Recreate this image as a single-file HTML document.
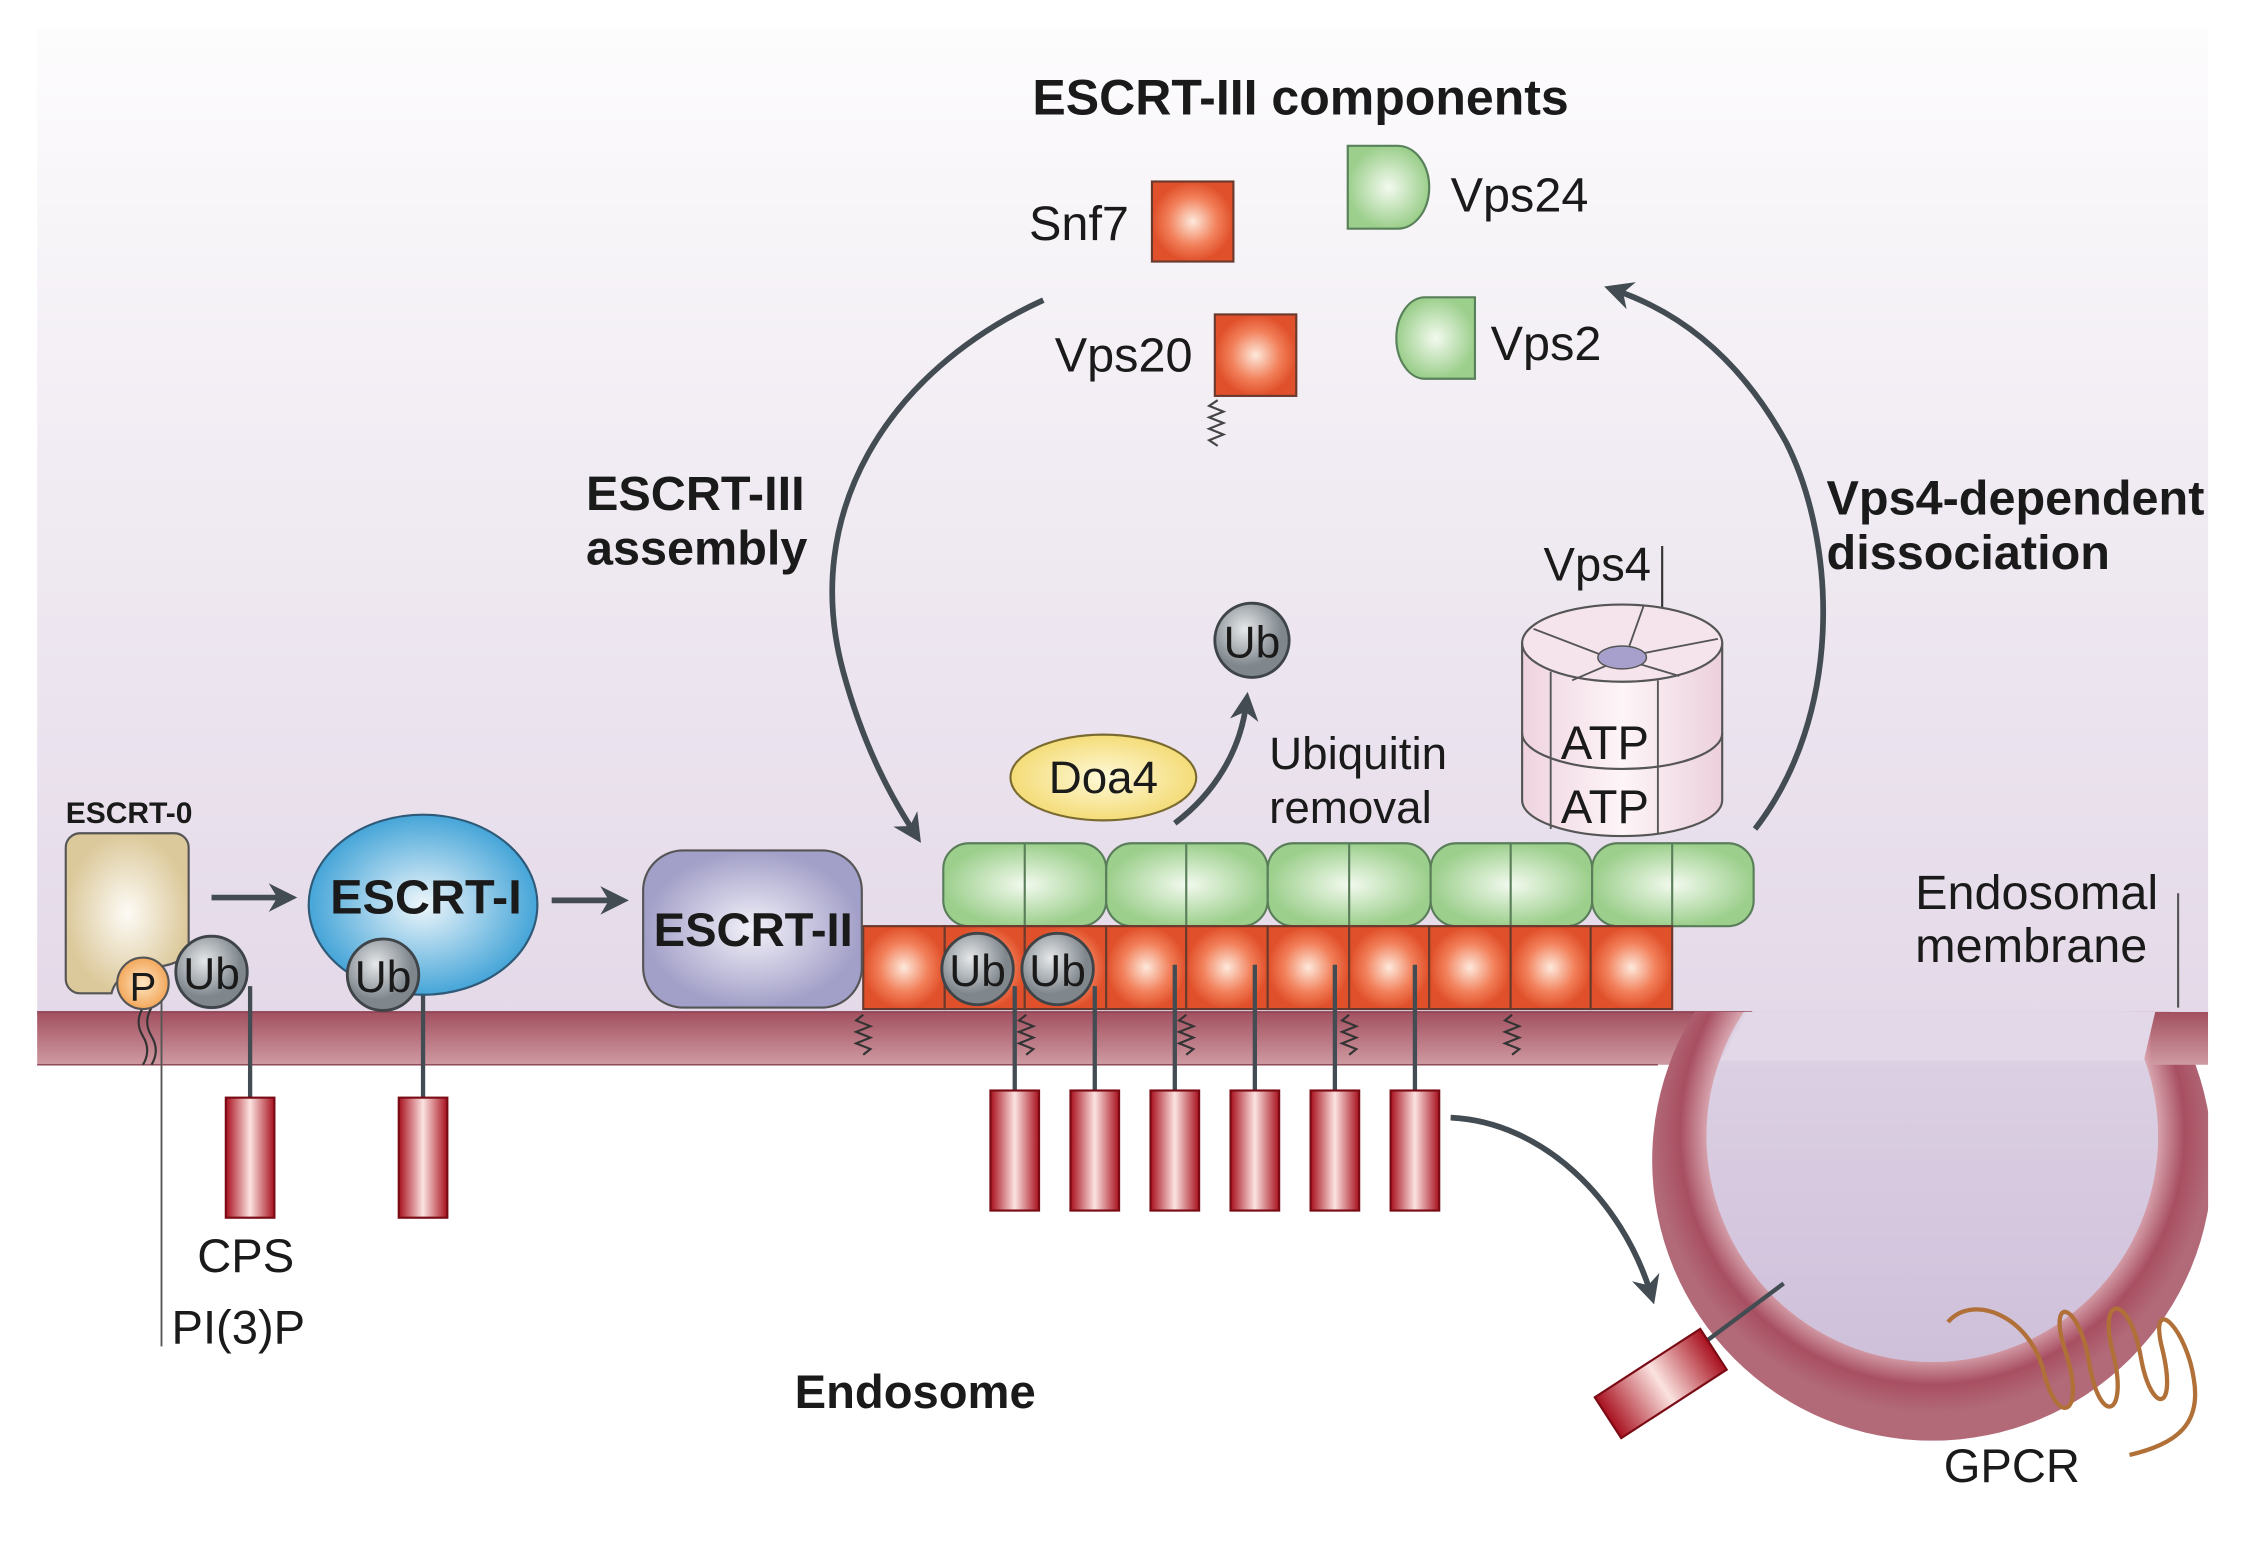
<!DOCTYPE html>
<html><head><meta charset="utf-8"><style>
html,body{margin:0;padding:0;background:#fff;}
svg{display:block;}
text{font-family:"Liberation Sans",Arial,sans-serif;fill:#1a1a1a;}
.b{font-weight:bold;}
</style></head><body>
<svg width="2241" height="1545" viewBox="0 0 1568 1081" preserveAspectRatio="none" xmlns="http://www.w3.org/2000/svg">
<defs>
<linearGradient id="bg" x1="0" y1="0" x2="0" y2="1">
<stop offset="0" stop-color="#fdfcfd"/><stop offset="0.35" stop-color="#f3eff5"/><stop offset="1" stop-color="#e4d9e8"/></linearGradient>
<linearGradient id="mem" x1="0" y1="0" x2="0" y2="1">
<stop offset="0" stop-color="#a2505f"/><stop offset="1" stop-color="#cf9aa2"/></linearGradient>
<radialGradient id="ring" cx="0.5" cy="0.45" r="0.5">
<stop offset="0.78" stop-color="#e2b8bf"/><stop offset="0.9" stop-color="#a84f62"/><stop offset="1" stop-color="#b26a78"/></radialGradient>
<linearGradient id="ves" x1="0" y1="0" x2="0" y2="1">
<stop offset="0" stop-color="#e2d8e8"/><stop offset="1" stop-color="#cfc0da"/></linearGradient>
<radialGradient id="red"><stop offset="0" stop-color="#fde9dc"/><stop offset="0.6" stop-color="#f2805a"/><stop offset="1" stop-color="#e0502a"/></radialGradient>
<radialGradient id="grn"><stop offset="0" stop-color="#f3faef"/><stop offset="1" stop-color="#9ccf8c"/></radialGradient>
<radialGradient id="ub" cx="0.4" cy="0.35"><stop offset="0" stop-color="#e6e8ea"/><stop offset="1" stop-color="#7f878d"/></radialGradient>
<radialGradient id="blue"><stop offset="0" stop-color="#eef6fb"/><stop offset="1" stop-color="#45a5d8"/></radialGradient>
<radialGradient id="lav"><stop offset="0" stop-color="#f2f1f8"/><stop offset="1" stop-color="#a29fc8"/></radialGradient>
<radialGradient id="beige"><stop offset="0" stop-color="#fdfbf6"/><stop offset="1" stop-color="#dcc99b"/></radialGradient>
<radialGradient id="yel"><stop offset="0" stop-color="#fff9d8"/><stop offset="1" stop-color="#f4dc78"/></radialGradient>
<radialGradient id="org"><stop offset="0" stop-color="#fde6c4"/><stop offset="1" stop-color="#f3a75a"/></radialGradient>
<linearGradient id="box" x1="0" y1="0" x2="1" y2="0">
<stop offset="0" stop-color="#a8101e"/><stop offset="0.5" stop-color="#fbe3e0"/><stop offset="1" stop-color="#a8101e"/></linearGradient>
<linearGradient id="pink" x1="0" y1="0" x2="1" y2="0">
<stop offset="0" stop-color="#efd3df"/><stop offset="0.5" stop-color="#fdf5f8"/><stop offset="1" stop-color="#ecd0dc"/></linearGradient>
<clipPath id="below"><rect x="0" y="708" width="1545" height="400"/></clipPath>
<marker id="ah" viewBox="0 0 10 10" refX="6" refY="5" markerWidth="5" markerHeight="5" orient="auto"><path d="M0,0 L10,5 L0,10 L3,5 z" fill="#434c52"/></marker>
</defs>

<rect x="26" y="20" width="1519" height="690" fill="url(#bg)"/>

<!-- membrane -->
<rect x="26" y="708" width="1200" height="37" fill="url(#mem)"/>
<line x1="26" y1="708" x2="1226" y2="708" stroke="#8a4050" stroke-width="1"/>
<line x1="26" y1="745" x2="1160" y2="745" stroke="#8a4050" stroke-width="1"/>
<g clip-path="url(#below)">
<circle cx="1352" cy="812" r="196" fill="url(#ring)"/>
<rect x="1505" y="708" width="40" height="37" fill="url(#mem)"/>
<circle cx="1352" cy="795" r="158" fill="url(#ves)"/>
<path d="M1222,708 L1508,708 L1500,742 L1204,742 z" fill="#e2d8e8"/>
</g>

<!-- title & ESCRT-III components -->
<text x="910" y="80" class="b" font-size="35" text-anchor="middle">ESCRT-III components</text>
<text x="720" y="168" font-size="34">Snf7</text>
<rect x="806" y="127" width="57" height="56" fill="url(#red)" stroke="#6a3a2e" stroke-width="1.5"/>
<text x="738" y="260" font-size="34">Vps20</text>
<rect x="850" y="220" width="57" height="57" fill="url(#red)" stroke="#6a3a2e" stroke-width="1.5"/>
<path d="M852,280 l-6,4 l10,4 l-10,4 l10,4 l-10,4 l10,4 l-10,4 l6,4" stroke="#444" stroke-width="1.5" fill="none"/>
<path d="M943,102 h35 a22,29 0 0 1 0,58 h-35 z" fill="url(#grn)" stroke="#58805a" stroke-width="1.5"/>
<text x="1015" y="148" font-size="34">Vps24</text>
<path d="M1032,208 h-35 a20,28.5 0 0 0 0,57 h35 z" fill="url(#grn)" stroke="#58805a" stroke-width="1.5"/>
<text x="1043" y="252" font-size="34">Vps2</text>

<!-- big arcs -->
<path d="M730,210 C620,260 560,360 590,470 C605,525 625,560 640,583" stroke="#434c52" stroke-width="4" fill="none" marker-end="url(#ah)"/>
<text x="410" y="357" class="b" font-size="34">ESCRT-III</text>
<text x="410" y="395" class="b" font-size="34">assembly</text>
<path d="M1228,580 C1290,500 1285,380 1250,310 C1220,255 1180,220 1130,203" stroke="#434c52" stroke-width="4" fill="none" marker-end="url(#ah)"/>
<text x="1278" y="360" class="b" font-size="34">Vps4-dependent</text>
<text x="1278" y="398" class="b" font-size="34">dissociation</text>

<!-- Ub removal -->
<circle cx="876" cy="448" r="26" fill="url(#ub)" stroke="#3e4448" stroke-width="2"/>
<text x="876" y="460" font-size="31" text-anchor="middle">Ub</text>
<path d="M822,576 C850,555 868,525 872,492" stroke="#434c52" stroke-width="4" fill="none" marker-end="url(#ah)"/>
<text x="888" y="538" font-size="32">Ubiquitin</text>
<text x="888" y="576" font-size="32">removal</text>
<ellipse cx="772" cy="544" rx="65" ry="30" fill="url(#yel)" stroke="#7a6a30" stroke-width="1.5"/>
<text x="772" y="555" font-size="32" text-anchor="middle">Doa4</text>

<!-- Vps4 cylinder -->
<text x="1080" y="406" font-size="33">Vps4</text>
<line x1="1163" y1="382" x2="1163" y2="440" stroke="#333" stroke-width="1.5"/>
<path d="M1065,450 L1065,560 A70,25 0 0 0 1205,560 L1205,450 z" fill="url(#pink)" stroke="#555" stroke-width="1.5"/>
<path d="M1065,513 A70,25 0 0 0 1205,513" fill="none" stroke="#555" stroke-width="1.5"/>
<ellipse cx="1135" cy="450" rx="70" ry="27" fill="#f6e4ec" stroke="#555" stroke-width="1.5"/>
<g stroke="#555" stroke-width="1.3">
<line x1="1135" y1="461" x2="1100" y2="476"/><line x1="1135" y1="461" x2="1175" y2="473"/>
<line x1="1120" y1="458" x2="1073" y2="440"/><line x1="1150" y1="457" x2="1202" y2="447"/>
<line x1="1140" y1="452" x2="1150" y2="424"/>
<line x1="1085" y1="470" x2="1085" y2="580"/><line x1="1160" y1="476" x2="1160" y2="584"/>
</g>
<ellipse cx="1135" cy="460" rx="17" ry="8" fill="#a8a0cc" stroke="#555" stroke-width="1"/>
<text x="1092" y="531" font-size="33">ATP</text>
<text x="1092" y="576" font-size="33">ATP</text>

<!-- green row -->
<g fill="url(#grn)" stroke="#5a7e5a" stroke-width="1.5">
<rect x="660" y="590" width="114" height="58" rx="18"/>
<rect x="774" y="590" width="113" height="58" rx="18"/>
<rect x="887" y="590" width="114" height="58" rx="18"/>
<rect x="1001" y="590" width="113" height="58" rx="18"/>
<rect x="1114" y="590" width="113" height="58" rx="18"/>
<line x1="717" y1="590" x2="717" y2="648"/><line x1="830" y1="590" x2="830" y2="648"/>
<line x1="944" y1="590" x2="944" y2="648"/><line x1="1057" y1="590" x2="1057" y2="648"/>
<line x1="1170" y1="590" x2="1170" y2="648"/>
</g>
<!-- red row -->
<g fill="url(#red)" stroke="#6a3a2e" stroke-width="1.5">
<rect x="604" y="648" width="57" height="58"/><rect x="661" y="648" width="56" height="58"/>
<rect x="717" y="648" width="57" height="58"/><rect x="774" y="648" width="56" height="58"/>
<rect x="830" y="648" width="57" height="58"/><rect x="887" y="648" width="57" height="58"/>
<rect x="944" y="648" width="56" height="58"/><rect x="1000" y="648" width="57" height="58"/>
<rect x="1057" y="648" width="56" height="58"/><rect x="1113" y="648" width="57" height="58"/>
</g>
<!-- squiggles -->
<g stroke="#333" stroke-width="1.5" fill="none">
<path d="M604,710 l-5,4 l10,4 l-10,4 l10,4 l-10,4 l10,4 l-5,4"/>
<path d="M718,710 l-5,4 l10,4 l-10,4 l10,4 l-10,4 l10,4 l-5,4"/>
<path d="M830,710 l-5,4 l10,4 l-10,4 l10,4 l-10,4 l10,4 l-5,4"/>
<path d="M944,710 l-5,4 l10,4 l-10,4 l10,4 l-10,4 l10,4 l-5,4"/>
<path d="M1058,710 l-5,4 l10,4 l-10,4 l10,4 l-10,4 l10,4 l-5,4"/>
<path d="M100,705 q-6,10 0,20 q6,10 0,20"/><path d="M106,705 q-6,10 0,20 q6,10 0,20"/>
</g>
<!-- stalks and boxes -->
<g stroke="#434c52" stroke-width="3">
<line x1="710" y1="690" x2="710" y2="765"/><line x1="766" y1="690" x2="766" y2="765"/>
<line x1="822" y1="675" x2="822" y2="765"/><line x1="878" y1="675" x2="878" y2="765"/>
<line x1="934" y1="675" x2="934" y2="765"/><line x1="990" y1="675" x2="990" y2="765"/>
<line x1="175" y1="690" x2="175" y2="768"/><line x1="296" y1="690" x2="296" y2="768"/>
</g>
<g fill="url(#box)" stroke="#7a0a14" stroke-width="1.5">
<rect x="693" y="763" width="34" height="84"/><rect x="749" y="763" width="34" height="84"/>
<rect x="805" y="763" width="34" height="84"/><rect x="861" y="763" width="34" height="84"/>
<rect x="917" y="763" width="34" height="84"/><rect x="973" y="763" width="34" height="84"/>
<rect x="158" y="768" width="34" height="84"/><rect x="279" y="768" width="34" height="84"/>
</g>
<g fill="url(#ub)" stroke="#3e4448" stroke-width="2">
<circle cx="684" cy="678" r="25"/><circle cx="740" cy="678" r="25"/>
</g>
<text x="684" y="690" font-size="31" text-anchor="middle">Ub</text>
<text x="740" y="690" font-size="31" text-anchor="middle">Ub</text>

<!-- ESCRT-0 -->
<text x="46" y="576" class="b" font-size="21">ESCRT-0</text>
<path d="M56,583 h66 a10,10 0 0 1 10,10 v72 q-4,10 -26,12 q-24,2 -28,18 h-22 a10,10 0 0 1 -10,-10 v-92 a10,10 0 0 1 10,-10 z" fill="url(#beige)" stroke="#555" stroke-width="1.5"/>
<line x1="113" y1="690" x2="113" y2="942" stroke="#555" stroke-width="1.3"/>
<circle cx="100" cy="688" r="18" fill="url(#org)" stroke="#555" stroke-width="1.5"/>
<text x="100" y="700" font-size="28" text-anchor="middle">P</text>
<circle cx="148" cy="680" r="25" fill="url(#ub)" stroke="#3e4448" stroke-width="2"/>
<text x="148" y="692" font-size="31" text-anchor="middle">Ub</text>
<text x="138" y="890" font-size="33">CPS</text>
<text x="120" y="940" font-size="33">PI(3)P</text>

<line x1="148" y1="628" x2="200" y2="628" stroke="#434c52" stroke-width="4" marker-end="url(#ah)"/>
<ellipse cx="296" cy="633" rx="80" ry="63" fill="url(#blue)" stroke="#2e5a78" stroke-width="1.5"/>
<text x="298" y="639" class="b" font-size="34" text-anchor="middle">ESCRT-I</text>
<circle cx="268" cy="682" r="25" fill="url(#ub)" stroke="#3e4448" stroke-width="2"/>
<text x="268" y="694" font-size="31" text-anchor="middle">Ub</text>
<line x1="386" y1="630" x2="432" y2="630" stroke="#434c52" stroke-width="4" marker-end="url(#ah)"/>
<rect x="450" y="595" width="153" height="110" rx="28" fill="url(#lav)" stroke="#555" stroke-width="1.5"/>
<text x="527" y="662" class="b" font-size="33" text-anchor="middle">ESCRT-II</text>

<text x="556" y="985" class="b" font-size="33">Endosome</text>

<!-- into vesicle -->
<path d="M1015,782 C1080,785 1135,840 1155,905" stroke="#434c52" stroke-width="4" fill="none" marker-end="url(#ah)"/>
<line x1="1248" y1="898" x2="1185" y2="945" stroke="#434c52" stroke-width="3"/>
<g transform="translate(1162,968) rotate(-33)">
<rect x="-44" y="-17" width="88" height="34" fill="url(#box)" stroke="#7a0a14" stroke-width="1.5"/>
</g>
<text x="1340" y="636" font-size="34">Endosomal</text>
<text x="1340" y="673" font-size="34">membrane</text>
<line x1="1524" y1="625" x2="1524" y2="705" stroke="#555" stroke-width="1.5"/>
<!-- GPCR helix -->
<path d="M1363,925 C1380,905 1420,920 1430,960 C1440,1000 1460,990 1445,945 C1432,905 1455,910 1462,955 C1470,1000 1490,990 1478,945 C1468,905 1490,905 1498,950 C1505,990 1525,990 1512,940 C1505,905 1530,930 1535,965 C1540,995 1525,1010 1490,1018" stroke="#b07038" stroke-width="3" fill="none"/>
<text x="1360" y="1037" font-size="33">GPCR</text>
</svg>
</body></html>
